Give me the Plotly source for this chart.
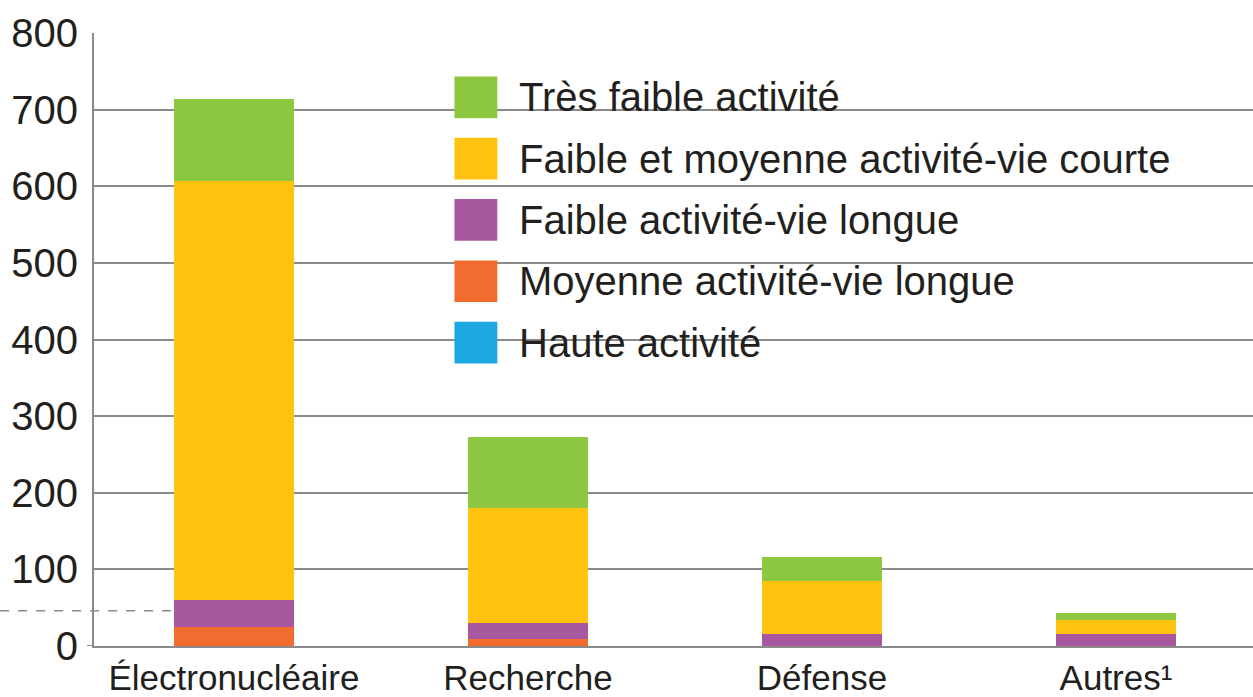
import plotly.graph_objects as go

categories = ["Électronucléaire", "Recherche", "Défense", "Autres¹"]
series_names = ["Haute activité", "Moyenne activité-vie longue", "Faible activité-vie longue",
                "Faible et moyenne activité-vie courte", "Très faible activité"]
haute = [0, 0, 0, 0]
mavl = [25, 9, 0, 0]
favl = [35, 21, 16, 16]
fma_vc = [547, 150, 69, 18]
tfa = [107, 93, 31, 9]
y_ticks = [0, 100, 200, 300, 400, 500, 600, 700, 800]
break_value = 46

colors = ["#1CA7E0", "#F26C2F", "#A8589E", "#FFC20E", "#8DC63F"]
values = [haute, mavl, favl, fma_vc, tfa]

FONT = "Liberation Sans, Arial, sans-serif"
TXT = "#231f20"

fig = go.Figure()
xs = list(range(len(categories)))
bar_w = 0.408
for name, vals, col in zip(series_names, values, colors):
    fig.add_trace(go.Bar(x=xs, y=vals, name=name, marker=dict(color=col, line=dict(width=0)),
                         width=bar_w, showlegend=False))

# manual legend (large squares like the reference)
legend_order = list(reversed(range(len(series_names))))
ly0 = 0.895
dy = 0.1
for i, k in enumerate(legend_order):
    yc = ly0 - i * dy
    fig.add_shape(type="rect", xref="paper", yref="paper",
                  x0=0.311, x1=0.348, y0=yc - 0.034, y1=yc + 0.034,
                  fillcolor=colors[k], line=dict(width=0), layer="above")
    fig.add_annotation(xref="paper", yref="paper", x=0.365, y=yc, text=series_names[k],
                       showarrow=False, xanchor="left", yanchor="middle",
                       font=dict(family=FONT, size=40, color=TXT))

# dashed break indicator on the left
fig.add_shape(type="line", xref="paper", yref="y", x0=-0.081, x1=0.069,
              y0=break_value, y1=break_value,
              line=dict(color="#8a8a8a", width=1.5, dash="dash"), layer="above")
# small stub of the baseline left of the axis
fig.add_shape(type="line", xref="paper", yref="y", x0=-0.006, x1=0, y0=0, y1=0,
              line=dict(color="#8a8a8a", width=2))

fig.update_layout(
    barmode="stack",
    width=1253, height=697,
    margin=dict(l=94, r=0, t=33, b=51, autoexpand=False),
    plot_bgcolor="white", paper_bgcolor="white",
    font=dict(family=FONT, size=35, color=TXT),
    showlegend=False,
    bargap=0,
)
fig.update_xaxes(range=[-0.476, 3.466], tickmode="array", tickvals=xs, ticktext=categories,
                 showgrid=False, showline=True, linecolor="#8a8a8a", linewidth=2,
                 ticks="", ticklabelstandoff=0, automargin=False,
                 tickfont=dict(family=FONT, size=35, color=TXT), zeroline=False)
fig.update_yaxes(range=[0, 800], tickmode="array", tickvals=y_ticks,
                 showgrid=True, gridcolor="#8a8a8a", gridwidth=1.5,
                 showline=True, linecolor="#8a8a8a", linewidth=2,
                 ticks="", ticklabelstandoff=6, zeroline=False, automargin=False,
                 tickfont=dict(family=FONT, size=40, color=TXT))

fig.write_html("out.html", config={"displayModeBar": False},
               post_script="document.body.style.margin='0';document.body.style.overflow='hidden';")
